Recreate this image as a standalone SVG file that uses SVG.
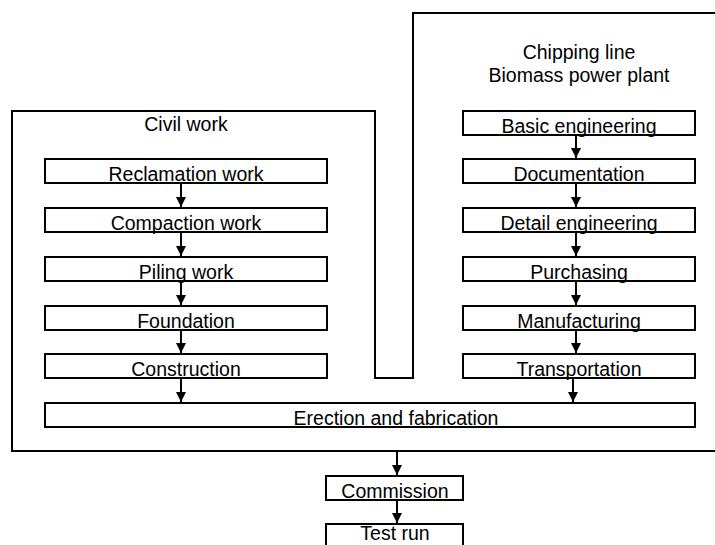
<svg xmlns="http://www.w3.org/2000/svg" width="715" height="545" viewBox="0 0 715 545">
<defs>
<style>
.box{fill:#fff;stroke:#000;stroke-width:2}
.frame{fill:none;stroke:#000;stroke-width:2}
.t{font-family:"Liberation Sans",Arial,sans-serif;font-size:19.5px;fill:#000;text-anchor:middle}
.c{stroke:#000;stroke-width:2;fill:none;marker-end:url(#ah)}
</style>
<marker id="ah" markerUnits="userSpaceOnUse" markerWidth="10" markerHeight="10" refX="10" refY="5" orient="auto">
<path d="M0,0 L10,5 L0,10 z" fill="#000"/>
</marker>
</defs>
<rect width="715" height="545" fill="#fff"/>
<g id="frame">
<path class="frame" d="M722,13 H413 V378 H375 V111 H12 V451 H722"/>
<text class="t" x="186" y="131">Civil work</text>
<text class="t" x="579" y="59">Chipping line</text>
<text class="t" x="579" y="82">Biomass power plant</text>
</g>
<g id="reclamation"><rect class="box" x="45" y="159" width="282" height="24"/><text class="t" x="186" y="181">Reclamation work</text></g>
<g id="compaction"><rect class="box" x="45" y="208" width="282" height="24"/><text class="t" x="186" y="230">Compaction work</text></g>
<g id="piling"><rect class="box" x="45" y="257" width="282" height="24"/><text class="t" x="186" y="279">Piling work</text></g>
<g id="foundation"><rect class="box" x="45" y="306" width="282" height="24"/><text class="t" x="186" y="328">Foundation</text></g>
<g id="construction"><rect class="box" x="45" y="354" width="282" height="24"/><text class="t" x="186" y="376">Construction</text></g>
<g id="basic"><rect class="box" x="463" y="111" width="232" height="24"/><text class="t" x="579" y="133">Basic engineering</text></g>
<g id="documentation"><rect class="box" x="463" y="159" width="232" height="24"/><text class="t" x="579" y="181">Documentation</text></g>
<g id="detail"><rect class="box" x="463" y="208" width="232" height="24"/><text class="t" x="579" y="230">Detail engineering</text></g>
<g id="purchasing"><rect class="box" x="463" y="257" width="232" height="24"/><text class="t" x="579" y="279">Purchasing</text></g>
<g id="manufacturing"><rect class="box" x="463" y="306" width="232" height="24"/><text class="t" x="579" y="328">Manufacturing</text></g>
<g id="transportation"><rect class="box" x="463" y="354" width="232" height="24"/><text class="t" x="579" y="376">Transportation</text></g>
<g id="erection"><rect class="box" x="45" y="403" width="650" height="24"/><text class="t" x="396" y="425">Erection and fabrication</text></g>
<g id="commission"><rect class="box" x="326" y="476" width="137" height="24"/><text class="t" x="395" y="498">Commission</text></g>
<g id="testrun"><rect class="box" x="326" y="524" width="137" height="30"/><text class="t" x="395" y="540">Test run</text></g>
<g id="connectors">
<line class="c" x1="181" y1="184" x2="181" y2="207"/>
<line class="c" x1="181" y1="233" x2="181" y2="256"/>
<line class="c" x1="181" y1="282" x2="181" y2="305"/>
<line class="c" x1="181" y1="331" x2="181" y2="353"/>
<line class="c" x1="181" y1="379" x2="181" y2="402"/>
<line class="c" x1="576" y1="136" x2="576" y2="158"/>
<line class="c" x1="576" y1="184" x2="576" y2="207"/>
<line class="c" x1="576" y1="233" x2="576" y2="256"/>
<line class="c" x1="576" y1="282" x2="576" y2="305"/>
<line class="c" x1="576" y1="331" x2="576" y2="353"/>
<line class="c" x1="573" y1="379" x2="573" y2="402"/>
<line class="c" x1="397" y1="452" x2="397" y2="475"/>
<line class="c" x1="397" y1="501" x2="397" y2="523"/>
</g>
</svg>
